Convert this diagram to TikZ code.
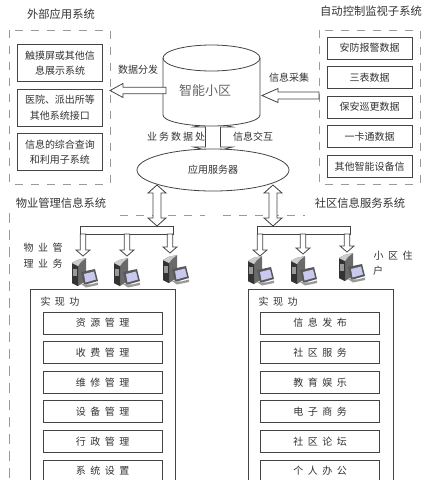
\documentclass[tikz,border=0pt]{standalone}
\usepackage{xcolor}
\usepackage{fontspec}
\setmainfont{Noto Sans CJK SC}
\newfontfamily\widecjk[LetterSpace=45]{Noto Sans CJK SC}
\newfontfamily\midcjk[LetterSpace=20]{Noto Sans CJK SC}
\usetikzlibrary{positioning, calc, shapes.geometric}
\definecolor{lineDark}{HTML}{444444}
\definecolor{dashGray}{HTML}{9A9A9A}
\definecolor{textDark}{HTML}{333333}
\definecolor{towerGray}{HTML}{6A6A6A}
\definecolor{screenBlue}{HTML}{C9C9EE}

\begin{document}
\begin{tikzpicture}[x=1pt,y=-1pt,node distance=6.8pt,text=textDark,font=\fontsize{10}{13}\selectfont]
    \tikzset{
      item/.style={draw=lineDark,line width=0.8pt,fill=white,minimum width=85pt,minimum height=22pt,inner sep=0pt,align=center},
      tallitem/.style={item,minimum height=37pt,font=\fontsize{10}{15.5}\selectfont},
      func/.style={draw=lineDark,line width=0.8pt,fill=white,minimum width=119pt,minimum height=22pt,inner sep=0pt,font=\widecjk\fontsize{10}{12}\selectfont},
      group/.style={draw=dashGray,line width=0.8pt,dash pattern=on 8pt off 8pt},
      outer/.style={draw=lineDark,line width=0.8pt,minimum width=145pt,minimum height=206pt,inner sep=0pt},
      note/.style={inner sep=0pt},
      title/.style={inner sep=0pt,font=\fontsize{11.3}{14}\selectfont},
      wide/.style={inner sep=0pt,font=\widecjk\fontsize{10}{12}\selectfont},
      bar/.style={draw=lineDark,line width=0.8pt,fill=white,minimum width=93pt,minimum height=8pt,inner sep=0pt},
      blockarrow/.style args={#1/#2/#3}{draw=lineDark,line width=0.8pt,fill=white,to path={
        -- ($(\tikztostart)!#1pt!90:(\tikztotarget)$)
        -- ($(\tikztotarget)!#3pt!(\tikztostart)!#1pt!90:(\tikztotarget)$)
        -- ($(\tikztotarget)!#3pt!(\tikztostart)!#2pt!90:(\tikztotarget)$)
        -- (\tikztotarget)
        -- ($(\tikztotarget)!#3pt!(\tikztostart)!#2pt!-90:(\tikztotarget)$)
        -- ($(\tikztotarget)!#3pt!(\tikztostart)!#1pt!-90:(\tikztotarget)$)
        -- ($(\tikztostart)!#1pt!-90:(\tikztotarget)$)
        -- (\tikztostart)}},
      bothways/.style args={#1/#2/#3}{draw=lineDark,line width=0.8pt,fill=white,to path={
        -- ($(\tikztostart)!#3pt!(\tikztotarget)!#2pt!90:(\tikztotarget)$)
        -- ($(\tikztostart)!#3pt!(\tikztotarget)!#1pt!90:(\tikztotarget)$)
        -- ($(\tikztotarget)!#3pt!(\tikztostart)!#1pt!90:(\tikztotarget)$)
        -- ($(\tikztotarget)!#3pt!(\tikztostart)!#2pt!90:(\tikztotarget)$)
        -- (\tikztotarget)
        -- ($(\tikztotarget)!#3pt!(\tikztostart)!#2pt!-90:(\tikztotarget)$)
        -- ($(\tikztotarget)!#3pt!(\tikztostart)!#1pt!-90:(\tikztotarget)$)
        -- ($(\tikztostart)!#3pt!(\tikztotarget)!#1pt!-90:(\tikztotarget)$)
        -- ($(\tikztostart)!#3pt!(\tikztotarget)!#2pt!-90:(\tikztotarget)$)
        -- (\tikztostart)}},
      pcicon/.pic={
        \fill[towerGray] (0,5) -- (5,2) -- (14,0) -- (14,23) -- (6,28) -- (0,25) -- cycle;
        \fill[black!80] (0,5) -- (6,8) -- (6,28) -- (0,25) -- cycle;
        \fill[black!20] (0,5) -- (5,2) -- (14,0) -- (9,4) -- (6,8) -- cycle;
        \fill[black!40] (1,11) rectangle (5,18);
        \fill[black!65] (9,14) -- (23,11) -- (26,23) -- (12,27) -- cycle;
        \fill[screenBlue] (12,16) -- (22,13.5) -- (24,21.5) -- (13.5,24.5) -- cycle;
        \fill[black!40] (9,26) -- (18,26.5) -- (26,24.5) -- (26,27) -- (14,29.5) -- cycle;
      }
    }
    \clip (0,0) rectangle (432,480);
    \useasboundingbox (0,0) rectangle (432,480);

    % left and right groups
    \draw[group] (9,30) rectangle (110,184);
    \draw[group] (319,30) rectangle (420,184);
    \node[title] (extTitle) at (61,14) {外部应用系统};
    \node[title] (ctlTitle) at (371,11) {自动控制监视子系统};
    \node[tallitem] (touch) at (60,63) {触摸屏或其他信\\息展示系统};
    \node[tallitem,below=of touch] (police) {医院、派出所等\\其他系统接口};
    \node[tallitem,below=of police] (query) {信息的综合查询\\和利用子系统};
    \node[item] (alarm) at (369.5,48) {安防报警数据};
    \node[item,below=of alarm] (meter) {三表数据};
    \node[item,below=of meter] (patrol) {保安巡更数据};
    \node[item,below=of patrol] (card) {一卡通数据};
    \node[item,below=of card] (other) {其他智能设备信};

    % centre
    \coordinate (upTip) at (213,122);
    \coordinate (downTip) at (213,152);
    \draw[bothways=7.5/19.5/5] (upTip) to (downTip);
    \draw[draw=lineDark,line width=0.8pt,fill=white] (163,58) -- (163,115) arc[start angle=180,end angle=360,x radius=48.5pt,y radius=11pt] -- (260,58) arc[start angle=0,end angle=180,x radius=48.5pt,y radius=13pt];
    \draw[draw=lineDark,line width=0.8pt] (163,58) arc[start angle=180,end angle=360,x radius=48.5pt,y radius=13pt];
    \node[note,font=\fontsize{13}{15}\selectfont,text=black!60] (core) at (205,91) {智能小区};
    \node[ellipse,draw=lineDark,line width=0.8pt,fill=white,minimum width=152pt,minimum height=42pt,inner sep=0pt] (server) at (213,170) {应用服务器};
    \node[note,font=\midcjk\fontsize{10}{12}\selectfont] (bizData) at (176,137) {业务数据处};
    \node[note] (infoSwap) at (253,137) {信息交互};
    \node[note] (sendData) at (138,70) {数据分发};
    \node[note] (getInfo) at (289,78) {信息采集};
    \coordinate (sendFrom) at (166,90.5);
    \coordinate (sendTo) at (110,90.5);
    \coordinate (getFrom) at (319,95.5);
    \coordinate (getTo) at (262,95.5);
    \draw[blockarrow=3.2/7/13] (sendFrom) to (sendTo);
    \draw[blockarrow=3.5/7/16] (getFrom) to (getTo);

    % lower part
    \node[title] (mgmtTitle) at (61,203) {物业管理信息系统};
    \node[title] (commTitle) at (360,203) {社区信息服务系统};
    \draw[group] (120,215) -- (205,215);
    \draw[group] (223,215) -- (305,215);
    \draw[group,dash pattern=on 10pt off 7pt] (9,213) -- (9,480);
    \node[bar] (barL) at (126.5,230) {};
    \node[bar] (barR) at (303.5,230) {};
    \coordinate (linkLa) at (157,185);
    \coordinate (linkLb) at (157,226);
    \coordinate (linkRa) at (273,185);
    \coordinate (linkRb) at (273,226);
    \draw[bothways=4/9/8] (linkLa) to (linkLb);
    \draw[bothways=4/9/8] (linkRa) to (linkRb);

    \coordinate (tapA) at (83,234);
    \coordinate (tapB) at (127,234);
    \coordinate (tapC) at (170,234);
    \coordinate (tapD) at (260,234);
    \coordinate (tapE) at (303,234);
    \coordinate (tapF) at (347,234);
    \coordinate (pcA) at (83,256);
    \coordinate (pcB) at (127,256);
    \coordinate (pcC) at (170,253);
    \coordinate (pcD) at (260,256);
    \coordinate (pcE) at (303,254);
    \coordinate (pcF) at (347,252);
    \draw[blockarrow=2.7/7/6] (tapA) to (pcA);
    \draw[blockarrow=2.7/7/6] (tapB) to (pcB);
    \draw[blockarrow=2.7/7/6] (tapC) to (pcC);
    \draw[blockarrow=2.7/7/6] (tapD) to (pcD);
    \draw[blockarrow=2.7/7/6] (tapE) to (pcE);
    \draw[blockarrow=2.7/7/6] (tapF) to (pcF);
    \pic at (72,258) {pcicon};
    \pic at (114,258) {pcicon};
    \pic at (163,255) {pcicon};
    \pic at (248,256) {pcicon};
    \pic at (291,256) {pcicon};
    \pic at (339,253) {pcicon};

    \node[wide] (mgmtA) at (43,248) {物业管};
    \node[wide] (mgmtB) at (43,264) {理业务};
    \node[wide] (userA) at (393,256) {小区住};
    \node[wide] (userB) at (378,271) {户};

    \node[outer] (mgmtBox) at (102.5,392) {};
    \node[outer] (commBox) at (320.5,392) {};
    \node[wide] (mgmtFn) at (60,302) {实现功};
    \node[wide] (commFn) at (278,302) {实现功};
    \node[func] (res) at (102.5,323) {资源管理};
    \node[func,below=of res] (fee) {收费管理};
    \node[func,below=of fee] (fix) {维修管理};
    \node[func,below=of fix] (equip) {设备管理};
    \node[func,below=of equip] (admin) {行政管理};
    \node[func,below=of admin] (sys) {系统设置};
    \node[func] (post) at (320,323) {信息发布};
    \node[func,below=of post] (serve) {社区服务};
    \node[func,below=of serve] (edu) {教育娱乐};
    \node[func,below=of edu] (shop) {电子商务};
    \node[func,below=of shop] (forum) {社区论坛};
    \node[func,below=of forum] (office) {个人办公};
  \end{tikzpicture}
\end{document}
